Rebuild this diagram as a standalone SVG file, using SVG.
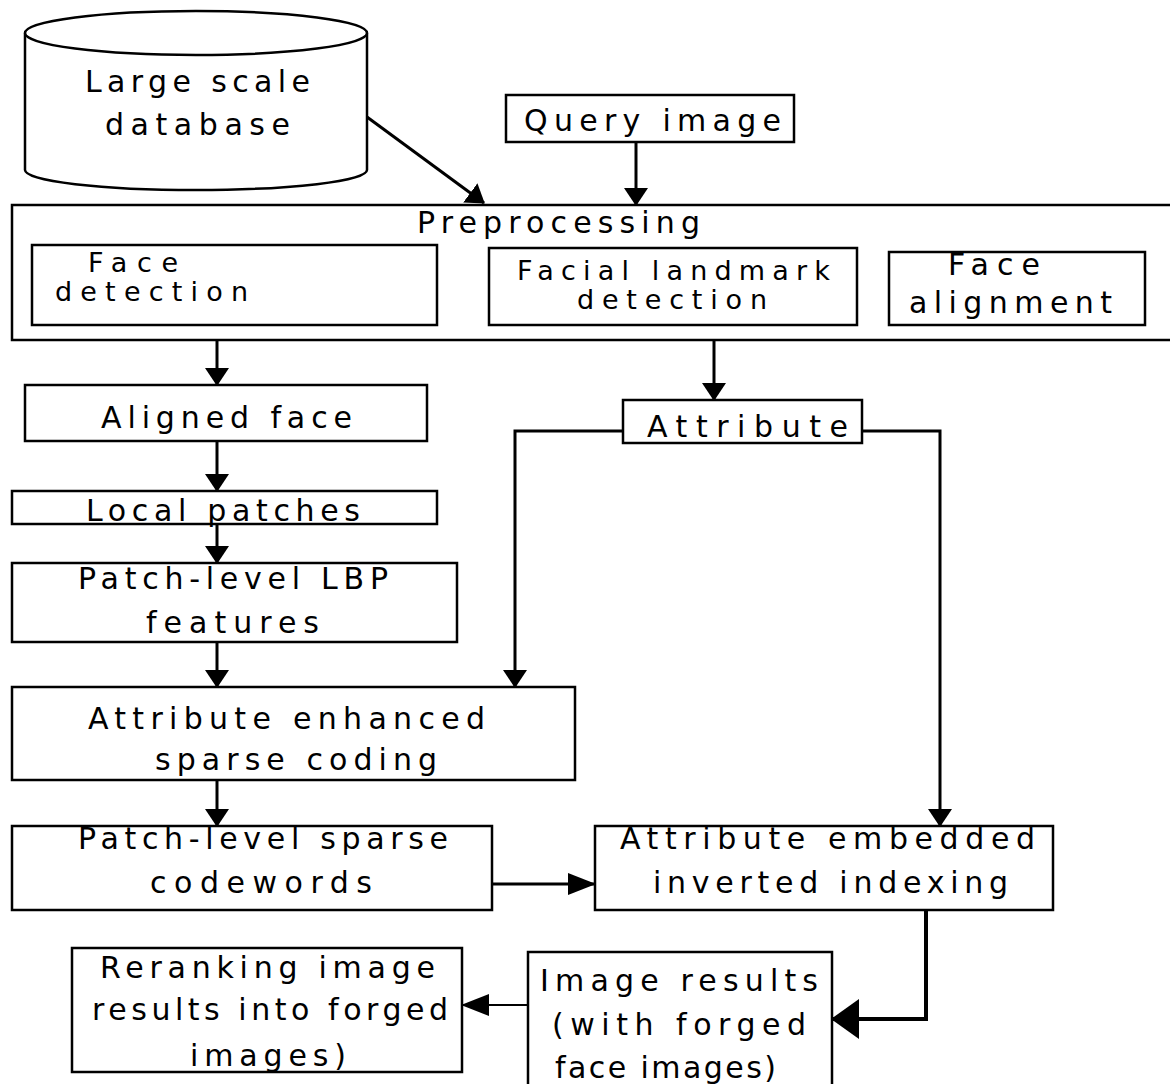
<svg xmlns="http://www.w3.org/2000/svg" width="1170" height="1084" viewBox="0 0 1170 1084">
<defs>
<style>
.box{fill:#fff;stroke:#000;stroke-width:2.5}
.t{font-family:"DejaVu Sans","Liberation Sans",Arial,sans-serif;font-size:30px;fill:#000}
.s{font-size:27px}
.c{fill:none;stroke:#000;stroke-width:3}
</style>
<marker id="ah" markerUnits="userSpaceOnUse" markerWidth="18" markerHeight="24" refX="17" refY="12" orient="auto"><path d="M0,0 L18,12 L0,24 z" fill="#000"/></marker>
<marker id="ahM" markerUnits="userSpaceOnUse" markerWidth="28" markerHeight="22" refX="27" refY="11" orient="auto"><path d="M0,0 L28,11 L0,22 z" fill="#000"/></marker>
<marker id="ahL" markerUnits="userSpaceOnUse" markerWidth="28" markerHeight="40" refX="27" refY="20" orient="auto"><path d="M0,0 L28,20 L0,40 z" fill="#000"/></marker>
</defs>
<rect width="1170" height="1084" fill="#fff"/>

<g id="connectors">
<line class="c" x1="367" y1="117" x2="484" y2="203" marker-end="url(#ah)"/>
<line class="c" x1="636" y1="142" x2="636" y2="205" marker-end="url(#ah)"/>
<line class="c" x1="217" y1="340" x2="217" y2="385" marker-end="url(#ah)"/>
<line class="c" x1="714" y1="340" x2="714" y2="400" marker-end="url(#ah)"/>
<line class="c" x1="217" y1="441" x2="217" y2="491" marker-end="url(#ah)"/>
<line class="c" x1="217" y1="524" x2="217" y2="563" marker-end="url(#ah)"/>
<line class="c" x1="217" y1="642" x2="217" y2="687" marker-end="url(#ah)"/>
<line class="c" x1="217" y1="780" x2="217" y2="826" marker-end="url(#ah)"/>
<polyline class="c" points="623,431 515,431 515,687" marker-end="url(#ah)"/>
<polyline class="c" points="862,431 940,431 940,826" marker-end="url(#ah)"/>
<line class="c" x1="492" y1="884" x2="595" y2="884" marker-end="url(#ahM)"/>
<polyline class="c" points="926,910 926,1019 832,1019" style="stroke-width:4" marker-end="url(#ahL)"/>
<line class="c" x1="528" y1="1005" x2="462" y2="1005" style="stroke-width:2" marker-end="url(#ahM)"/>
</g>

<g id="database">
<path class="box" d="M25,33 L25,170 A171,20 0 0 0 367,170 L367,33"/>
<ellipse class="box" cx="196" cy="33" rx="171" ry="22"/>
<text class="t" x="85" y="92" textLength="225" lengthAdjust="spacing">Large scale</text>
<text class="t" x="105" y="135" textLength="185" lengthAdjust="spacing">database</text>
</g>

<g id="query">
<rect class="box" x="506" y="95" width="288" height="47"/>
<text class="t" x="524" y="131" textLength="257" lengthAdjust="spacing">Query image</text>
</g>

<g id="preprocessing">
<rect class="box" x="12" y="205" width="1170" height="135"/>
<text class="t" x="417" y="233" textLength="283" lengthAdjust="spacing">Preprocessing</text>
</g>

<g id="face-detection">
<rect class="box" x="32" y="245" width="405" height="80"/>
<text class="t s" x="88" y="272" textLength="90" lengthAdjust="spacing">Face</text>
<text class="t s" x="55" y="301" textLength="193" lengthAdjust="spacing">detection</text>
</g>

<g id="landmark">
<rect class="box" x="489" y="248" width="368" height="77"/>
<text class="t s" x="517" y="280" textLength="313" lengthAdjust="spacing">Facial landmark</text>
<text class="t s" x="577" y="309" textLength="190" lengthAdjust="spacing">detection</text>
</g>

<g id="alignment">
<rect class="box" x="889" y="252" width="256" height="73"/>
<text class="t" x="948" y="275" textLength="92" lengthAdjust="spacing">Face</text>
<text class="t" x="909" y="313" textLength="203" lengthAdjust="spacing">alignment</text>
</g>

<g id="aligned-face">
<rect class="box" x="25" y="385" width="402" height="56"/>
<text class="t" x="101" y="428" textLength="251" lengthAdjust="spacing">Aligned face</text>
</g>

<g id="attribute">
<rect class="box" x="623" y="400" width="239" height="43"/>
<text class="t" x="647" y="437" textLength="201" lengthAdjust="spacing">Attribute</text>
</g>

<g id="local-patches">
<rect class="box" x="12" y="491" width="425" height="33"/>
<text class="t" x="86" y="521" textLength="274" lengthAdjust="spacing">Local patches</text>
</g>

<g id="lbp">
<rect class="box" x="12" y="563" width="445" height="79"/>
<text class="t" x="78" y="589" textLength="310" lengthAdjust="spacing">Patch-level LBP</text>
<text class="t" x="146" y="633" textLength="173" lengthAdjust="spacing">features</text>
</g>

<g id="sparse-coding">
<rect class="box" x="12" y="687" width="563" height="93"/>
<text class="t" x="88" y="729" textLength="397" lengthAdjust="spacing">Attribute enhanced</text>
<text class="t" x="155" y="770" textLength="282" lengthAdjust="spacing">sparse coding</text>
</g>

<g id="codewords">
<rect class="box" x="12" y="826" width="480" height="84"/>
<text class="t" x="78" y="849" textLength="370" lengthAdjust="spacing">Patch-level sparse</text>
<text class="t" x="150" y="893" textLength="222" lengthAdjust="spacing">codewords</text>
</g>

<g id="indexing">
<rect class="box" x="595" y="826" width="458" height="84"/>
<text class="t" x="620" y="849" textLength="415" lengthAdjust="spacing">Attribute embedded</text>
<text class="t" x="653" y="893" textLength="355" lengthAdjust="spacing">inverted indexing</text>
</g>

<g id="reranking">
<rect class="box" x="72" y="948" width="390" height="124"/>
<text class="t" x="100" y="978" textLength="335" lengthAdjust="spacing">Reranking image</text>
<text class="t" x="92" y="1020" textLength="356" lengthAdjust="spacing">results into forged</text>
<text class="t" x="190" y="1066" textLength="156" lengthAdjust="spacing">images)</text>
</g>

<g id="image-results">
<rect class="box" x="528" y="952" width="304" height="140"/>
<text class="t" x="540" y="991" textLength="278" lengthAdjust="spacing">Image results</text>
<text class="t" x="552" y="1035" textLength="254" lengthAdjust="spacing">(with forged</text>
<text class="t" x="555" y="1078" textLength="221" lengthAdjust="spacing">face images)</text>
</g>
</svg>
